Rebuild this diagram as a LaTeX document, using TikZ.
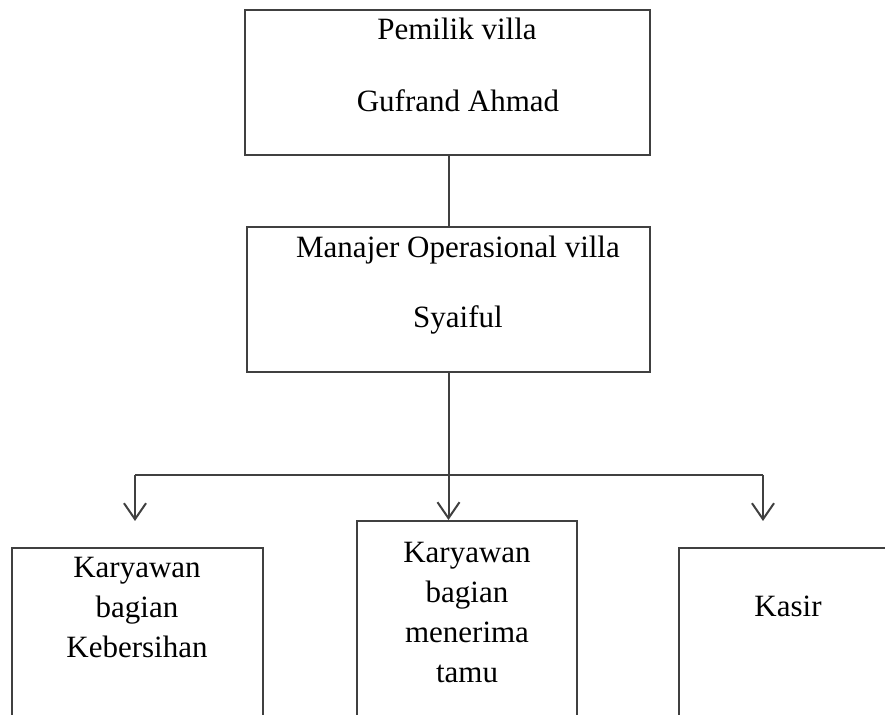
\documentclass[tikz,border=0pt]{standalone}
\usepackage{fontspec}
\setmainfont{Liberation Serif}
\usetikzlibrary{arrows.meta,
                positioning}
\tikzset{
        box/.style={draw=black!75, line width=1pt, rectangle, inner sep=0pt},
        txt/.style={font=\fontsize{15.5}{20}\selectfont, align=center,
                    inner sep=0pt},
        link/.style={draw=black!75, line width=1pt},
        myarrow/.style={link, -{Straight Barb[length=8pt,width=11pt]}},
 }

\begin{document}
\begin{tikzpicture}[x=0.5pt,y=-0.5pt]
    \useasboundingbox (0,0) rectangle (885,715);
    \clip (0,0) rectangle (885,715);

    % boxes
    \node[box, minimum width=202.5pt, minimum height=72.5pt] (owner) at (447.5,82.5) {};
    \node[box, minimum width=201.5pt, minimum height=72.5pt] (mgr) at (448.5,299.5) {};
    \node[box, minimum width=125.5pt, minimum height=116pt] (clean) at (137.5,664) {};
    \node[box, minimum width=110pt, minimum height=129.5pt] (front) at (467,650.5) {};
    \node[box, minimum width=115.5pt, minimum height=116pt] (cash) at (794.5,664) {};

    % texts
    \node[txt, anchor=base] (ownerrole) at (457,40) {Pemilik villa};
    \node[txt, anchor=base] (ownername) at (458,112) {Gufrand Ahmad};
    \node[txt, anchor=base] (mgrrole) at (458,258) {Manajer Operasional villa};
    \node[txt, anchor=base] (mgrname) at (458,328) {Syaiful};
    \node[txt] (cleantxt) at (137,608) {Karyawan\\bagian\\Kebersihan};
    \node[txt] (fronttxt) at (467,613) {Karyawan\\bagian\\menerima\\tamu};
    \node[txt, anchor=base] (cashtxt) at (788,617) {Kasir};

    \coordinate (split) at (448.5,475);
    \coordinate (lsplit) at (135,475);
    \coordinate (rsplit) at (763,475);
    \coordinate (ltip) at (135,521);
    \coordinate (rtip) at (763,521);

    \draw[link] (owner.south -| mgr) -- (mgr.north);
    \draw[link] (mgr.south) -- (split);
    \draw[link] (lsplit) -- (rsplit);
    \draw[myarrow] (lsplit) -- (ltip);
    \draw[myarrow] (split) -- (split |- front.north);
    \draw[myarrow] (rsplit) -- (rtip);
\end{tikzpicture}
\end{document}
